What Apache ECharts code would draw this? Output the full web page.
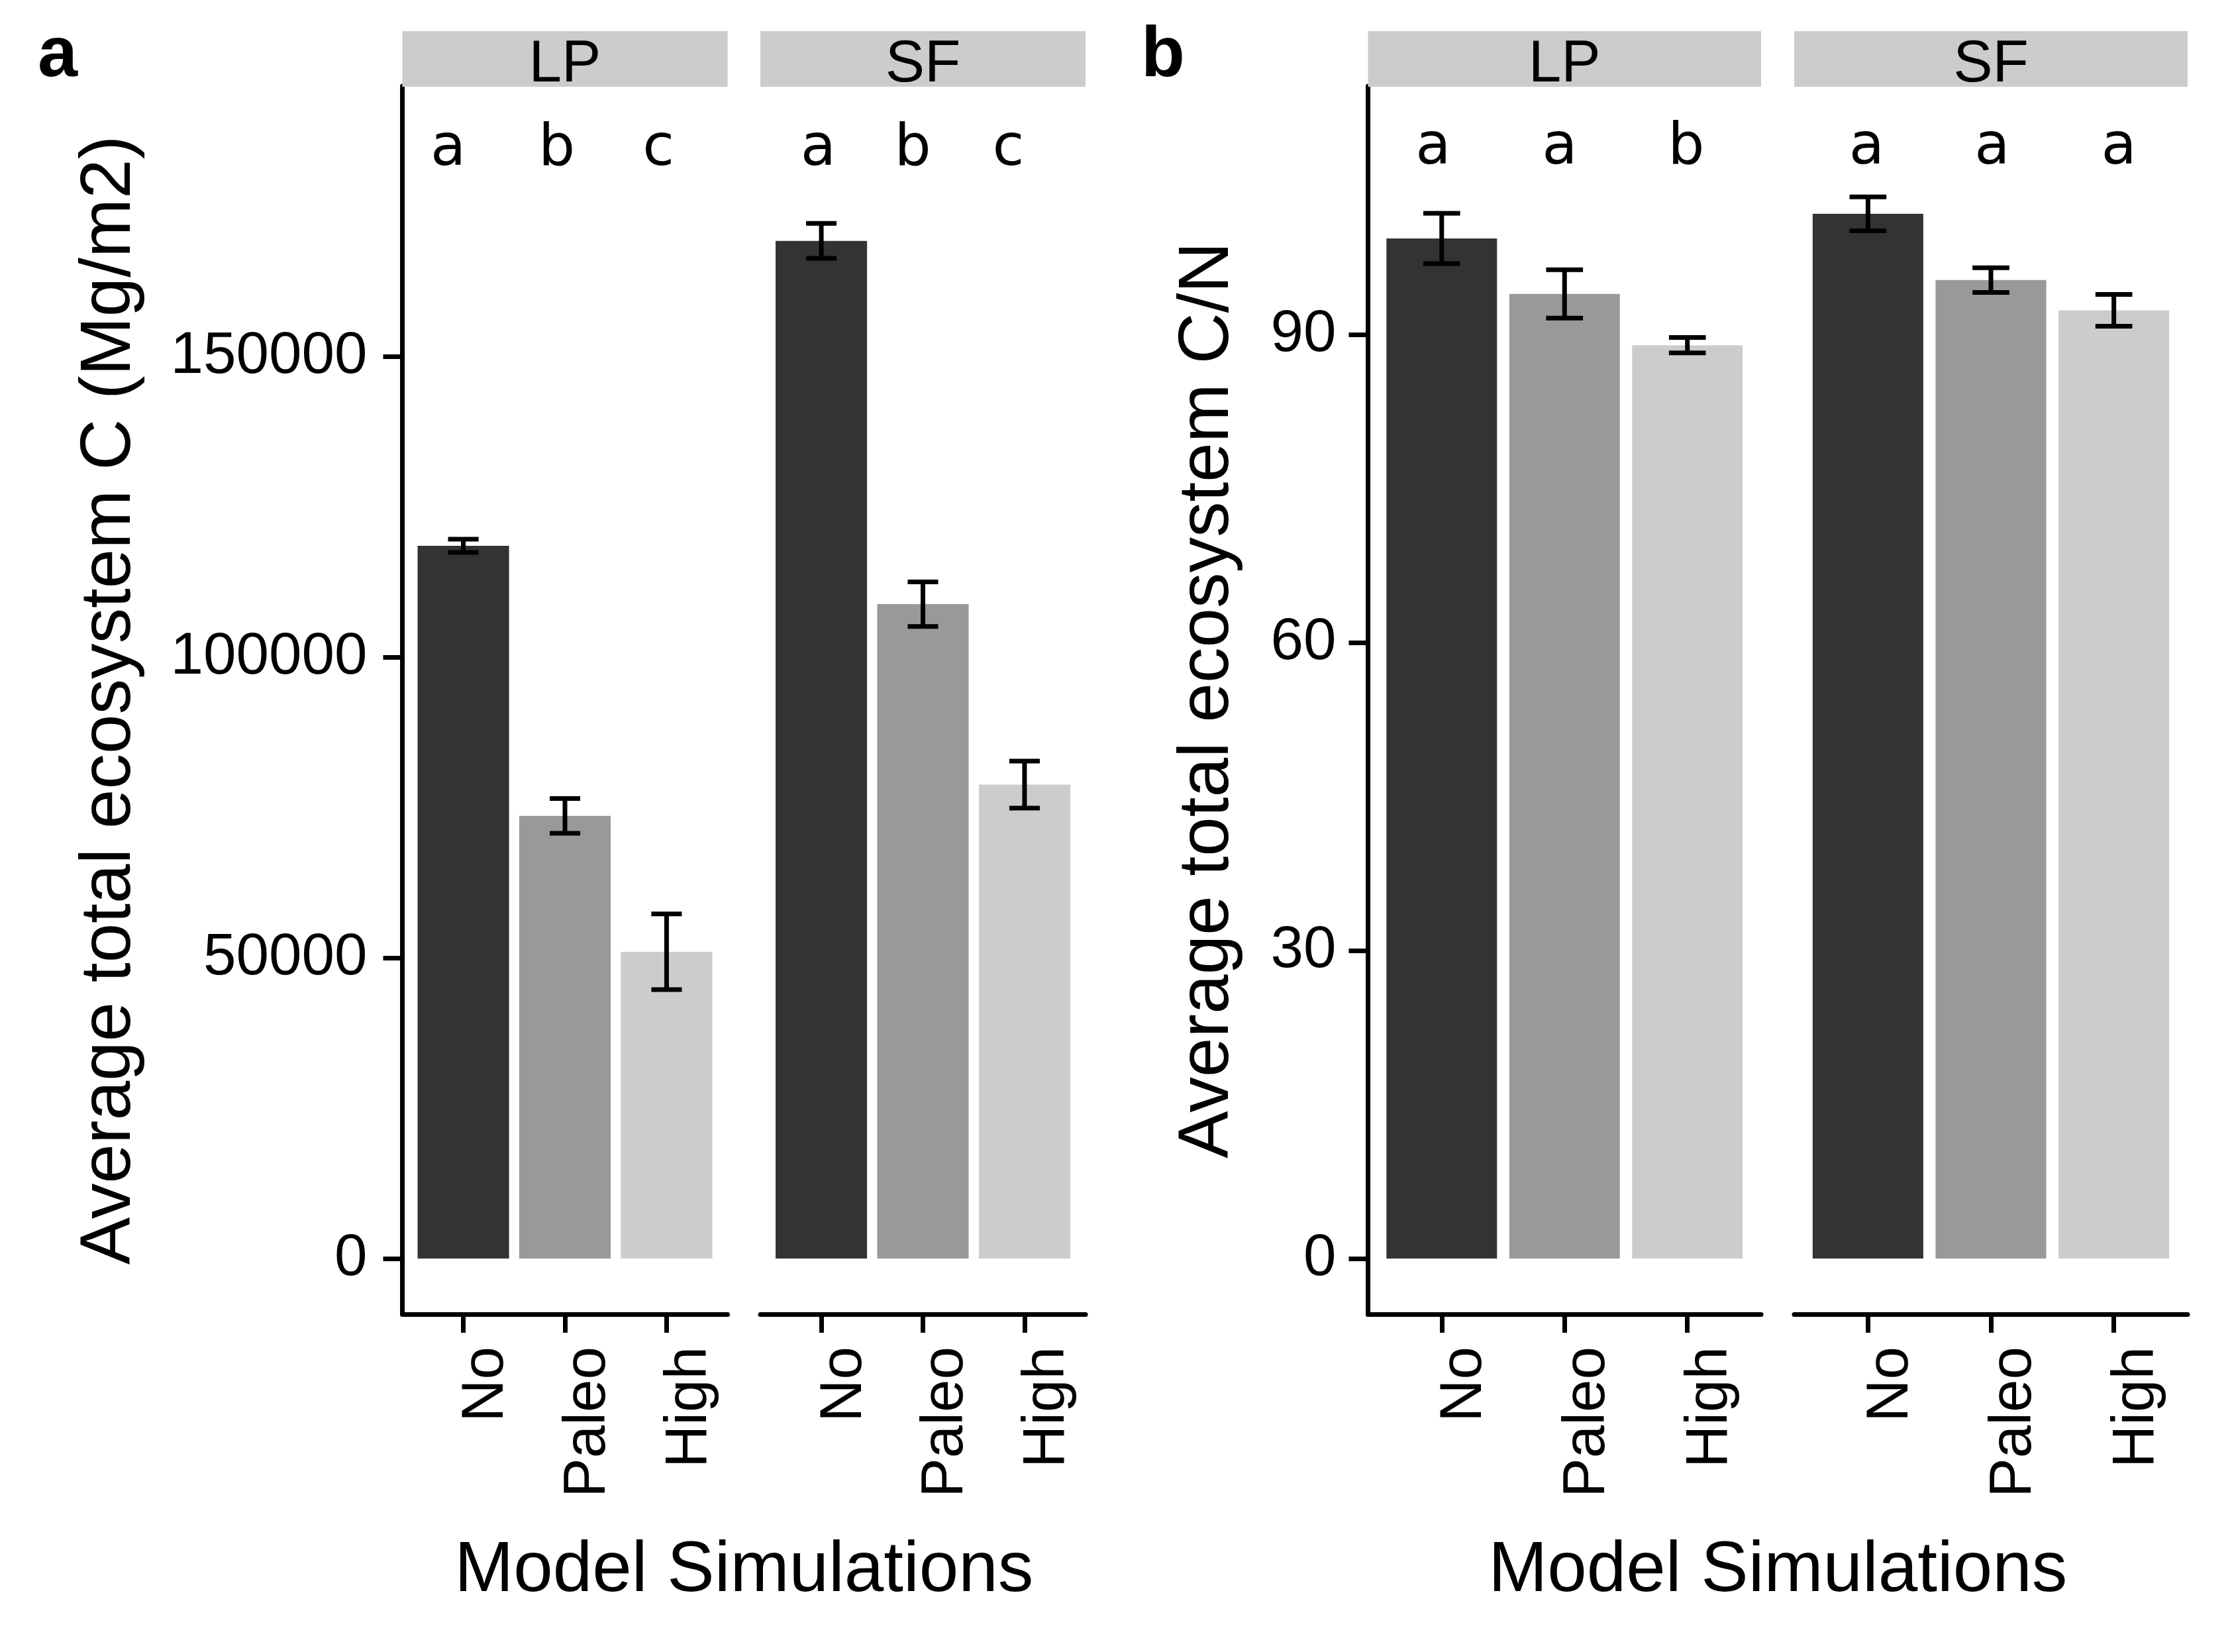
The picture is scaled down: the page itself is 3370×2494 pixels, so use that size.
<!DOCTYPE html>
<html>
<head>
<meta charset="utf-8">
<script src="https://cdn.jsdelivr.net/npm/echarts@6/dist/echarts.min.js"></script>
<style>
html,body{margin:0;padding:0;background:#ffffff;}
#chart{width:3370px;height:2494px;}
</style>
</head>
<body>
<div id="chart"></div>
<script>
// ---------------- data ----------------
const categories = ['No', 'Paleo', 'High'];
const sites = ['LP', 'SF'];

// Panel a: average total ecosystem C (Mg/m2)
const carbonLP   = [118500, 73600, 51000];
const carbonLPse = [1100, 2900, 6300];
const carbonSF   = [169200, 108800, 78800];
const carbonSFse = [2900, 3700, 3900];
const carbonLettersLP = ['a', 'b', 'c'];
const carbonLettersSF = ['a', 'b', 'c'];
const carbonLetterXLP = [0.85, 1.92, 2.92];
const carbonLetterXSF = [0.97, 1.90, 2.84];
const carbonLetterY = 184300;
const carbonTicks = [0, 50000, 100000, 150000];
const carbonRange = [-9251, 194934];

// Panel b: average total ecosystem C/N
const cnLP   = [99.35, 93.95, 88.95];
const cnLPse = [2.45, 2.35, 0.75];
const cnSF   = [101.75, 95.3, 92.35];
const cnSFse = [1.65, 1.2, 1.55];
const cnLettersLP = ['a', 'a', 'b'];
const cnLettersSF = ['a', 'a', 'a'];
const cnLetterXLP = [0.93, 1.96, 2.99];
const cnLetterXSF = [0.99, 2.01, 3.04];
const cnLetterY = 108.1;
const cnTicks = [0, 30, 60, 90];
const cnRange = [-5.42, 114.19];

const catPositions = [1, 2, 3];

// ---------------- style / layout ----------------
const FILLS = ['#333333', '#999999', '#CCCCCC'];
const BAR_W = 0.9, ERR_W = 0.3;
const LW = 7;
const SANS = "'Liberation Sans', Arial, sans-serif";
const LETTER_FONT = "'DejaVu Sans', sans-serif";
const TOP = 130, BOTTOM = 1984;
const panels = [
  {left: 607.5, right: 1098.5, first: true,  range: carbonRange, ticks: carbonTicks,
   vals: carbonLP, se: carbonLPse, letters: carbonLettersLP, lx: carbonLetterXLP, ly: carbonLetterY,
   site: sites[0], title: 'Average total ecosystem C (Mg/m2)', nameGap: 388, labelMargin: 53},
  {left: 1148, right: 1639, first: false, range: carbonRange, ticks: carbonTicks,
   vals: carbonSF, se: carbonSFse, letters: carbonLettersSF, lx: carbonLetterXSF, ly: carbonLetterY,
   site: sites[1]},
  {left: 2065.5, right: 2659, first: true, range: cnRange, ticks: cnTicks,
   vals: cnLP, se: cnLPse, letters: cnLettersLP, lx: cnLetterXLP, ly: cnLetterY,
   site: sites[0], title: 'Average total ecosystem C/N', nameGap: 188, labelMargin: 48},
  {left: 2709, right: 3303, first: false, range: cnRange, ticks: cnTicks,
   vals: cnSF, se: cnSFse, letters: cnLettersSF, lx: cnLetterXSF, ly: cnLetterY,
   site: sites[1]}
];

const grids = [], xAxes = [], yAxes = [], series = [], graphics = [];

panels.forEach((p, i) => {
  grids.push({left: p.left, top: TOP, width: p.right - p.left, height: BOTTOM - TOP, containLabel: false});
  xAxes.push({
    type: 'value', gridIndex: i, min: 0.4, max: 3.6,
    axisLine: {show: true, onZero: false, lineStyle: {color: '#000', width: LW}},
    axisTick: {show: true, length: 28, customValues: catPositions, lineStyle: {color: '#000', width: LW}},
    axisLabel: {
      show: true, customValues: catPositions, rotate: 90, align: 'right', verticalAlign: 'top',
      margin: 49, lineHeight: 70,
      formatter: v => categories[Math.round(v) - 1],
      color: '#000', fontSize: 89, fontFamily: SANS
    },
    splitLine: {show: false}
  });
  yAxes.push({
    type: 'value', gridIndex: i, min: p.range[0], max: p.range[1],
    axisLine: {show: p.first, onZero: false, lineStyle: {color: '#000', width: LW}},
    axisTick: {show: p.first, length: 29, customValues: p.ticks, lineStyle: {color: '#000', width: LW}},
    axisLabel: {
      show: p.first, customValues: p.ticks, margin: p.labelMargin || 50,
      formatter: v => String(v), color: '#000', fontSize: 89, fontFamily: SANS
    },
    splitLine: {show: false},
    name: p.first ? p.title : '',
    nameLocation: 'middle', nameGap: p.nameGap || 0,
    nameTextStyle: {color: '#000', fontSize: 107, fontFamily: SANS}
  });

  const barData = p.vals.map((v, k) => [catPositions[k], v, k]);
  series.push({
    type: 'custom', xAxisIndex: i, yAxisIndex: i, data: barData, silent: true,
    renderItem: (params, api) => {
      const x = api.value(0), v = api.value(1);
      const p0 = api.coord([x - BAR_W / 2, v]);
      const p1 = api.coord([x + BAR_W / 2, 0]);
      return {type: 'rect', shape: {x: p0[0], y: p0[1], width: p1[0] - p0[0], height: p1[1] - p0[1]},
              style: {fill: FILLS[api.value(2)]}};
    }
  });
  const errData = p.vals.map((v, k) => [catPositions[k], v, p.se[k]]);
  series.push({
    type: 'custom', xAxisIndex: i, yAxisIndex: i, data: errData, silent: true, z: 3,
    renderItem: (params, api) => {
      const x = api.value(0), v = api.value(1), e = api.value(2);
      const t = api.coord([x, v + e]), b = api.coord([x, v - e]);
      const l = api.coord([x - ERR_W / 2, v])[0], r = api.coord([x + ERR_W / 2, v])[0];
      const st = {stroke: '#000', lineWidth: LW};
      return {type: 'group', children: [
        {type: 'line', shape: {x1: t[0], y1: t[1], x2: b[0], y2: b[1]}, style: st},
        {type: 'line', shape: {x1: l, y1: t[1], x2: r, y2: t[1]}, style: st},
        {type: 'line', shape: {x1: l, y1: b[1], x2: r, y2: b[1]}, style: st}
      ]};
    }
  });
  const letterData = p.letters.map((s, k) => [p.lx[k], p.ly, k]);
  const letters = p.letters;
  series.push({
    type: 'custom', xAxisIndex: i, yAxisIndex: i, data: letterData, silent: true, z: 4,
    renderItem: (params, api) => {
      const c = api.coord([api.value(0), api.value(1)]);
      return {type: 'text', x: c[0], y: c[1],
              style: {text: letters[api.value(2)], fill: '#000', font: "87px " + LETTER_FONT,
                      align: 'center', verticalAlign: 'middle'}};
    }
  });

  // facet strip
  graphics.push({type: 'rect', shape: {x: p.left, y: 47, width: p.right - p.left, height: 84},
                 style: {fill: '#CCCCCC'}, z: 1});
  graphics.push({type: 'text', x: (p.left + p.right) / 2, y: 98,
                 style: {text: p.site, fill: '#000', font: "89px " + SANS, align: 'center', verticalAlign: 'middle'}, z: 2});
});

// x titles and panel tags
graphics.push({type: 'text', x: (panels[0].left + panels[1].right) / 2, y: 2372,
               style: {text: 'Model Simulations', fill: '#000', font: "107px " + SANS, align: 'center', verticalAlign: 'middle'}});
graphics.push({type: 'text', x: (panels[2].left + panels[3].right) / 2, y: 2372,
               style: {text: 'Model Simulations', fill: '#000', font: "107px " + SANS, align: 'center', verticalAlign: 'middle'}});
graphics.push({type: 'text', x: 57, y: 85,
               style: {text: 'a', fill: '#000', font: "bold 108px " + SANS, align: 'left', verticalAlign: 'middle'}});
graphics.push({type: 'text', x: 1723, y: 85,
               style: {text: 'b', fill: '#000', font: "bold 108px " + SANS, align: 'left', verticalAlign: 'middle'}});

const chart = echarts.init(document.getElementById('chart'), null, {renderer: 'canvas'});
chart.setOption({
  backgroundColor: '#ffffff',
  animation: false,
  grid: grids,
  xAxis: xAxes,
  yAxis: yAxes,
  series: series,
  graphic: graphics
});
</script>
</body>
</html>
